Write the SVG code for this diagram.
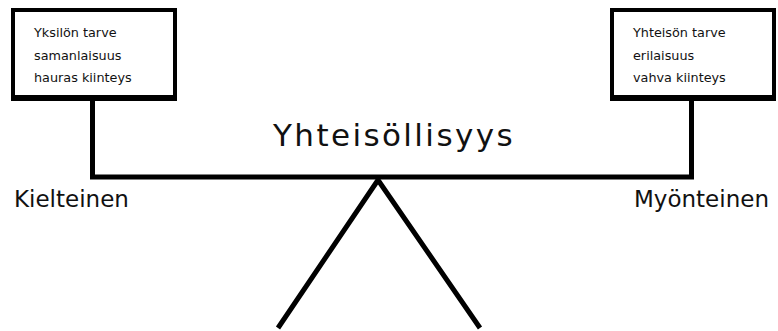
<svg xmlns="http://www.w3.org/2000/svg" width="778" height="331" viewBox="0 0 778 331">
  <style>
    .box { fill: #ffffff; stroke: #000000; stroke-width: 4; }
    .bar { fill: #000000; }
    .boxtxt { font-family: "DejaVu Sans", "Liberation Sans", sans-serif; font-size: 12.8px; fill: #111111; }
    .side { font-family: "DejaVu Sans", "Liberation Sans", sans-serif; font-size: 23px; fill: #111111; }
    .title { font-family: "DejaVu Sans", "Liberation Sans", sans-serif; font-size: 31px; letter-spacing: 2.4px; fill: #111111; }
    .line { fill: none; stroke: #000000; stroke-width: 5; stroke-linejoin: miter; }
  </style>
  <rect width="778" height="331" fill="#ffffff"/>
  <g id="connectors">
    <polyline class="line" points="92.5,98 92.5,177 691.5,177 691.5,98"/>
    <polyline class="line" stroke-width="4.5" points="278,328 378,180 480,328"/>
  </g>
  <g id="node-yksilo">
    <rect class="box" x="13" y="10" width="162" height="88"/>
    <rect class="bar" x="11" y="95" width="166" height="6"/>
    <text class="boxtxt" x="34" y="37">Yksilön tarve</text>
    <text class="boxtxt" x="34" y="60">samanlaisuus</text>
    <text class="boxtxt" x="34" y="82">hauras kiinteys</text>
  </g>
  <g id="node-yhteiso">
    <rect class="box" x="612" y="10" width="162" height="88"/>
    <rect class="bar" x="610" y="95" width="166" height="6"/>
    <text class="boxtxt" x="633" y="37">Yhteisön tarve</text>
    <text class="boxtxt" x="633" y="60">erilaisuus</text>
    <text class="boxtxt" x="633" y="82">vahva kiinteys</text>
  </g>
  <g id="title">
    <text class="title" x="273" y="146">Yhteisöllisyys</text>
  </g>
  <g id="label-kielteinen">
    <text class="side" x="14" y="207">Kielteinen</text>
  </g>
  <g id="label-myonteinen">
    <text class="side" x="634" y="207">Myönteinen</text>
  </g>
</svg>
